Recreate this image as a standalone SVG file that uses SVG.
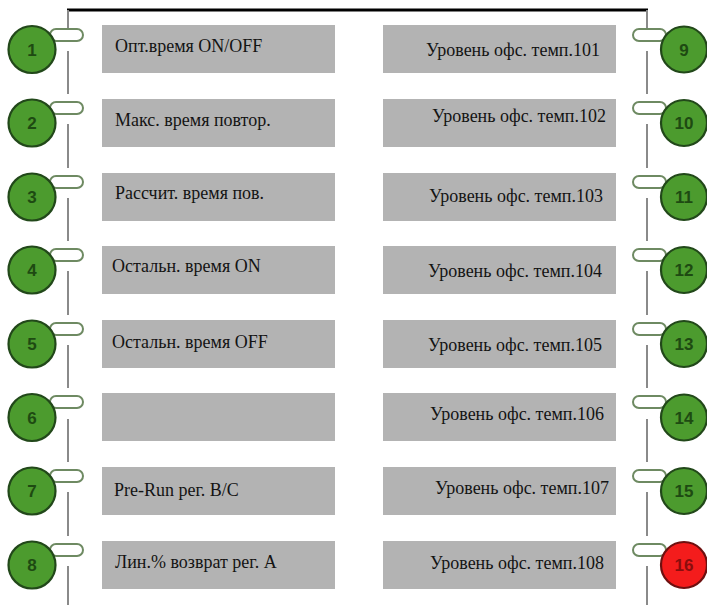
<svg xmlns="http://www.w3.org/2000/svg" width="707" height="605" viewBox="0 0 707 605">
  <style>
    .box { fill: #b3b3b3; }
    .lbl { font-family: "Liberation Serif", "Times New Roman", Times, "DejaVu Serif", serif; font-size: 18px; fill: #141414; }
    .r { text-anchor: end; }
    .tab { fill: #ffffff; stroke: #6e8a62; stroke-width: 2; }
    .led { fill: #4c9b2e; stroke: #22481a; stroke-width: 2.2; }
    .led.red { fill: #f41c1c; stroke: #6e1010; }
    .num { font-family: "Liberation Sans", Arial, sans-serif; font-weight: bold; font-size: 17px; fill: #1e4a12; text-anchor: middle; }
    .num.red { fill: #8a0d0d; }
    .rail { stroke: #8a8a8a; stroke-width: 2; fill: none; }
    .top { stroke: #000000; stroke-width: 3; fill: none; }
  </style>

  <rect width="707" height="605" fill="#ffffff"/>

  <!-- rails and frame -->
  <g id="connectors">
    <line class="top" x1="67" y1="10" x2="648" y2="10"/>
    <!-- left rail -->
    <line class="rail" x1="68" y1="10" x2="68" y2="28"/>
    <line class="rail" x1="68" y1="51" x2="68" y2="94"/>
    <line class="rail" x1="68" y1="124" x2="68" y2="168"/>
    <line class="rail" x1="68" y1="198" x2="68" y2="241"/>
    <line class="rail" x1="68" y1="271" x2="68" y2="315"/>
    <line class="rail" x1="68" y1="345" x2="68" y2="388"/>
    <line class="rail" x1="68" y1="419" x2="68" y2="462"/>
    <line class="rail" x1="68" y1="492" x2="68" y2="536"/>
    <line class="rail" x1="68" y1="566" x2="68" y2="605"/>
    <!-- right rail -->
    <line class="rail" x1="647" y1="10" x2="647" y2="28"/>
    <line class="rail" x1="647" y1="51" x2="647" y2="94"/>
    <line class="rail" x1="647" y1="124" x2="647" y2="168"/>
    <line class="rail" x1="647" y1="198" x2="647" y2="241"/>
    <line class="rail" x1="647" y1="271" x2="647" y2="315"/>
    <line class="rail" x1="647" y1="345" x2="647" y2="388"/>
    <line class="rail" x1="647" y1="419" x2="647" y2="462"/>
    <line class="rail" x1="647" y1="492" x2="647" y2="536"/>
    <line class="rail" x1="647" y1="566" x2="647" y2="605"/>
  </g>

  <!-- left column -->
  <g id="node-1">
    <rect class="box" x="102" y="25" width="233" height="48"/>
    <text class="lbl" x="115" y="52" font-family="Liberation Serif, serif">Опт.время ON/OFF</text>
    <rect class="tab" x="50" y="29" width="33" height="12" rx="6"/>
    <circle class="led" cx="32" cy="49.5" r="23.5"/>
    <text class="num" x="32" y="55.5">1</text>
  </g>
  <g id="node-2">
    <rect class="box" x="102" y="99" width="233" height="48"/>
    <text class="lbl" x="115" y="126">Макс. время повтор.</text>
    <rect class="tab" x="50" y="102" width="33" height="12" rx="6"/>
    <circle class="led" cx="32" cy="123" r="23.5"/>
    <text class="num" x="32" y="129">2</text>
  </g>
  <g id="node-3">
    <rect class="box" x="102" y="173" width="233" height="48"/>
    <text class="lbl" x="115" y="199">Рассчит. время пов.</text>
    <rect class="tab" x="50" y="176" width="33" height="12" rx="6"/>
    <circle class="led" cx="32" cy="197" r="23.5"/>
    <text class="num" x="32" y="203">3</text>
  </g>
  <g id="node-4">
    <rect class="box" x="102" y="246" width="233" height="48"/>
    <text class="lbl" x="112" y="272">Остальн. время ON</text>
    <rect class="tab" x="50" y="249" width="33" height="12" rx="6"/>
    <circle class="led" cx="32" cy="270" r="23.5"/>
    <text class="num" x="32" y="276">4</text>
  </g>
  <g id="node-5">
    <rect class="box" x="102" y="320" width="233" height="48"/>
    <text class="lbl" x="112" y="348">Остальн. время OFF</text>
    <rect class="tab" x="50" y="323" width="33" height="12" rx="6"/>
    <circle class="led" cx="32" cy="344" r="23.5"/>
    <text class="num" x="32" y="350">5</text>
  </g>
  <g id="node-6">
    <rect class="box" x="102" y="393" width="233" height="48"/>
    <rect class="tab" x="50" y="396" width="33" height="12" rx="6"/>
    <circle class="led" cx="32" cy="417.5" r="23.5"/>
    <text class="num" x="32" y="423.5">6</text>
  </g>
  <g id="node-7">
    <rect class="box" x="102" y="467" width="233" height="48"/>
    <text class="lbl" x="114" y="496">Pre-Run рег. B/C</text>
    <rect class="tab" x="50" y="470" width="33" height="12" rx="6"/>
    <circle class="led" cx="32" cy="491" r="23.5"/>
    <text class="num" x="32" y="497">7</text>
  </g>
  <g id="node-8">
    <rect class="box" x="102" y="541" width="233" height="48"/>
    <text class="lbl" x="115" y="568">Лин.% возврат рег. A</text>
    <rect class="tab" x="50" y="544" width="33" height="12" rx="6"/>
    <circle class="led" cx="32" cy="565" r="23.5"/>
    <text class="num" x="32" y="571">8</text>
  </g>

  <!-- right column -->
  <g id="node-9">
    <rect class="box" x="383" y="25" width="233" height="48"/>
    <text class="lbl r" x="600" y="56">Уровень офс. темп.101</text>
    <rect class="tab" x="633" y="29" width="33" height="12" rx="6"/>
    <circle class="led" cx="684" cy="49.5" r="23"/>
    <text class="num" x="684" y="55.5">9</text>
  </g>
  <g id="node-10">
    <rect class="box" x="383" y="99" width="233" height="48"/>
    <text class="lbl r" x="606" y="122">Уровень офс. темп.102</text>
    <rect class="tab" x="633" y="102" width="33" height="12" rx="6"/>
    <circle class="led" cx="684" cy="123" r="23"/>
    <text class="num" x="684" y="129">10</text>
  </g>
  <g id="node-11">
    <rect class="box" x="383" y="173" width="233" height="48"/>
    <text class="lbl r" x="603" y="202">Уровень офс. темп.103</text>
    <rect class="tab" x="633" y="176" width="33" height="12" rx="6"/>
    <circle class="led" cx="684" cy="197" r="23"/>
    <text class="num" x="684" y="203">11</text>
  </g>
  <g id="node-12">
    <rect class="box" x="383" y="246" width="233" height="48"/>
    <text class="lbl r" x="602" y="277">Уровень офс. темп.104</text>
    <rect class="tab" x="633" y="249" width="33" height="12" rx="6"/>
    <circle class="led" cx="684" cy="270" r="23"/>
    <text class="num" x="684" y="276">12</text>
  </g>
  <g id="node-13">
    <rect class="box" x="383" y="320" width="233" height="48"/>
    <text class="lbl r" x="602" y="351">Уровень офс. темп.105</text>
    <rect class="tab" x="633" y="323" width="33" height="12" rx="6"/>
    <circle class="led" cx="684" cy="344" r="23"/>
    <text class="num" x="684" y="350">13</text>
  </g>
  <g id="node-14">
    <rect class="box" x="383" y="393" width="233" height="48"/>
    <text class="lbl r" x="604" y="420">Уровень офс. темп.106</text>
    <rect class="tab" x="633" y="396" width="33" height="12" rx="6"/>
    <circle class="led" cx="684" cy="417.5" r="23"/>
    <text class="num" x="684" y="423.5">14</text>
  </g>
  <g id="node-15">
    <rect class="box" x="383" y="467" width="233" height="48"/>
    <text class="lbl r" x="609" y="494">Уровень офс. темп.107</text>
    <rect class="tab" x="633" y="470" width="33" height="12" rx="6"/>
    <circle class="led" cx="684" cy="491" r="23"/>
    <text class="num" x="684" y="497">15</text>
  </g>
  <g id="node-16">
    <rect class="box" x="383" y="541" width="233" height="48"/>
    <text class="lbl r" x="604" y="569">Уровень офс. темп.108</text>
    <rect class="tab" x="633" y="544" width="33" height="12" rx="6"/>
    <circle class="led red" cx="684" cy="565" r="23"/>
    <text class="num red" x="684" y="571">16</text>
  </g>
</svg>
